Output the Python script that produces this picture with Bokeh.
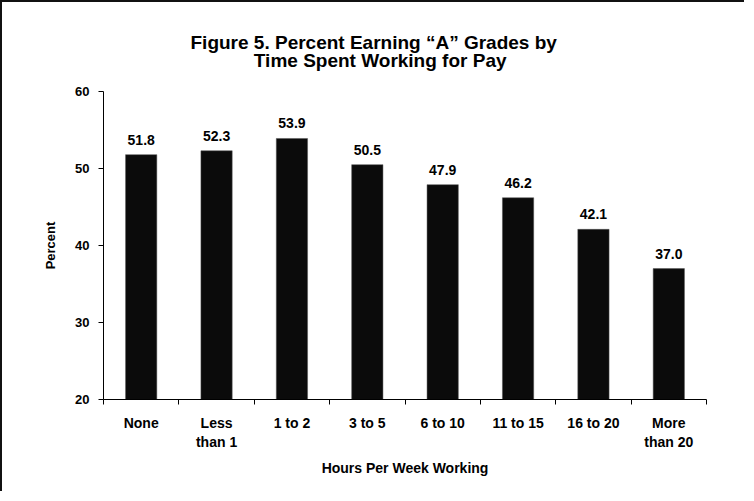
from bokeh.plotting import figure
from bokeh.models import FixedTicker, Range1d, ColumnDataSource
from bokeh.core.properties import value
from bokeh.embed import file_html
from bokeh.resources import INLINE

title_lines = ["Figure 5. Percent Earning \u201cA\u201d Grades by", "Time Spent Working for Pay"]
categories = ["None", "Less\nthan 1", "1 to 2", "3 to 5", "6 to 10", "11 to 15", "16 to 20", "More\nthan 20"]
percent = [51.8, 52.3, 53.9, 50.5, 47.9, 46.2, 42.1, 37.0]
y_ticks = [20, 30, 40, 50, 60]

FONT = "'Liberation Sans', Arial, Helvetica, sans-serif"

xs = [i + 0.5 for i in range(len(categories))]
src = ColumnDataSource(dict(x=xs, top=percent, label=["%.1f" % v for v in percent]))

p = figure(width=744, height=491, output_backend="svg", toolbar_location=None,
           x_range=Range1d(0, len(categories)), y_range=Range1d(20, 60),
           min_border_left=101, min_border_right=40, min_border_top=89, min_border_bottom=94,
           styles={"border-left": "2px solid #111", "border-top": "2px solid #111"})
p.outline_line_color = None
p.xgrid.visible = False
p.ygrid.visible = False

# second line padded with no-break spaces so both lines appear centred on each other
p.title.text = title_lines[0] + "\n" + "\u00a0" * 12 + title_lines[1]
p.title.align = "left"
p.title.offset = 87
p.title.standoff = 40
p.title.text_font = FONT
p.title.text_font_size = "19px"
p.title.text_font_style = "bold"
p.title.text_color = "black"
p.title.text_line_height = 0.9

p.vbar(x="x", top="top", bottom=20, width=0.415, source=src, fill_color="#0b0b0b",
       line_color="#555555", line_width=0.5)
p.text(x="x", y="top", text="label", source=src, text_align="center", text_baseline="bottom",
       y_offset=-10, text_font=value(FONT), text_font_size="14px", text_font_style="bold",
       text_color="black")

xa = p.xaxis[0]
xa.ticker = FixedTicker(ticks=xs, minor_ticks=list(range(len(categories) + 1)))
xa.major_label_overrides = {x: c for x, c in zip(xs, categories)}
xa.major_tick_out = 0
xa.major_tick_in = 0
xa.minor_tick_out = 5
xa.minor_tick_in = 0
xa.major_label_standoff = 10
xa.major_label_text_font = FONT
xa.major_label_text_font_size = "14px"
xa.major_label_text_font_style = "bold"
xa.major_label_text_color = "black"
xa.axis_label = "Hours Per Week Working"
xa.axis_label_text_font = FONT
xa.axis_label_text_font_size = "14px"
xa.axis_label_text_font_style = "bold"
xa.axis_label_text_color = "black"
xa.axis_label_standoff = 7
xa.axis_line_color = "black"

ya = p.yaxis[0]
ya.ticker = FixedTicker(ticks=y_ticks, minor_ticks=[])
ya.major_tick_out = 5
ya.major_tick_in = 0
ya.major_label_standoff = 9
ya.major_label_text_font = FONT
ya.major_label_text_font_size = "13px"
ya.major_label_text_font_style = "bold"
ya.major_label_text_color = "black"
ya.axis_label = "Percent"
ya.axis_label_text_font = FONT
ya.axis_label_text_font_size = "13px"
ya.axis_label_text_font_style = "bold"
ya.axis_label_text_color = "black"
ya.axis_label_standoff = 14
ya.axis_line_color = "black"

open("out.html", "w").write(file_html(p, INLINE))
